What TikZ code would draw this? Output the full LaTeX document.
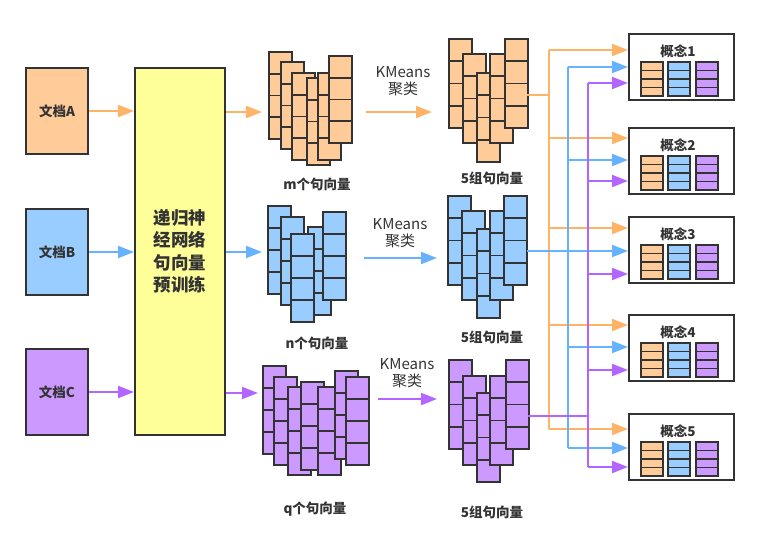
\documentclass[tikz,border=0pt]{standalone}
\usepackage{fontspec}
\setmainfont{Noto Sans CJK SC}
\usetikzlibrary{arrows.meta}
\definecolor{oF}{HTML}{FFCC99}
\definecolor{oL}{HTML}{FFB366}
\definecolor{bF}{HTML}{99CCFF}
\definecolor{bL}{HTML}{66B2FF}
\definecolor{pF}{HTML}{CC99FF}
\definecolor{pL}{HTML}{B266FF}
\definecolor{yF}{HTML}{FFFF99}
\definecolor{edge}{HTML}{333333}
\definecolor{txt}{HTML}{333333}
\newcommand\vstack[5]{%
  \draw[stk,fill=#5] (#1,#2) rectangle ++(#3,#4);
  \foreach \k in {1,2,3}{\draw[stk] (#1,#2+\k*#4/4) -- ++(#3,0);}%
}
\tikzset{
  stk/.style={draw=edge, line width=1.9pt},
  box/.style={draw=edge, line width=2pt, inner sep=0pt},
  arr/.style={line width=2pt, -{Triangle[length=16pt,width=12pt]}},
  ln/.style={line width=2pt},
  doc/.style={box, minimum width=62pt, minimum height=86pt, text=txt, font=\bfseries\fontsize{13.5}{14}\selectfont},
  concept/.style={box, fill=white, minimum width=105pt, minimum height=66pt},
  lab/.style={text=txt, font=\bfseries\fontsize{13.5}{14}\selectfont},
  km/.style={text=txt, align=center, font=\fontsize{15}{17}\selectfont},
}
\begin{document}
\begin{tikzpicture}[x=1pt,y=-1pt]
\useasboundingbox (0,0) rectangle (780,547);

% documents
\node[doc, fill=oF] (A) at (57,111) {文档A};
\node[doc, fill=bF] (B) at (57,252) {文档B};
\node[doc, fill=pF] (C) at (57,392) {文档C};

% RNN box
\node[box, fill=yF, minimum width=90pt, minimum height=367pt, align=center, text=txt,
      font=\bfseries\fontsize{17.5}{22.5}\selectfont] (Y) at (180,251.5) {递归神\\经网络\\句向量\\预训练};

\draw[arr,oL] (A) -- (A -| Y.west);
\draw[arr,bL] (B) -- (B -| Y.west);
\draw[arr,pL] (C) -- (C -| Y.west);

% sentence vector stacks
\coordinate (mIn) at (262,112);
\coordinate (nIn) at (262,252);
\coordinate (qIn) at (258,393);
\draw[arr,oL] (Y.east |- mIn) -- (mIn);
\draw[arr,bL] (Y.east |- nIn) -- (nIn);
\draw[arr,pL] (Y.east |- qIn) -- (qIn);

\foreach \x/\y in {269/52,281/62,292/73,307/78,318/73,329/56} {\vstack{\x}{\y}{23}{87}{oF}}
\foreach \x/\y in {268/206,281/217,308/227,291/234,323/212} {\vstack{\x}{\y}{23}{88}{bF}}
\foreach \x/\y in {263/366,274/377,288/387,301/382,318/387,335/371,346/377} {\vstack{\x}{\y}{23}{88}{pF}}

\node[lab] (mL) at (317,184) {m个句向量};
\node[lab] (nL) at (317,343) {n个句向量};
\node[lab] (qL) at (315,509) {q个句向量};

% KMeans arrows
\coordinate (mOut) at (366,112); \coordinate (gA) at (432,112);
\coordinate (nOut) at (364,258); \coordinate (gB) at (437,258);
\coordinate (qOut) at (378,399); \coordinate (gC) at (437,399);
\draw[arr,oL] (mOut) -- (gA);
\draw[arr,bL] (nOut) -- (gB);
\draw[arr,pL] (qOut) -- (gC);
\node[km] (kA) at (403,81.5) {KMeans\\聚类};
\node[km] (kB) at (400,233.5) {KMeans\\聚类};
\node[km] (kC) at (407,373.5) {KMeans\\聚类};

% 5 groups
\foreach \x/\y in {449/39,463/54,477/73,490/54,505/39} {\vstack{\x}{\y}{23}{89}{oF}}
\foreach \x/\y in {448/196,462/211,477/229,490/211,504/196} {\vstack{\x}{\y}{23}{89}{bF}}
\foreach \x/\y in {449/360,463/376,477/393,490/376,506/360} {\vstack{\x}{\y}{23}{89}{pF}}
\node[lab] (gAL) at (492,178) {5组句向量};
\node[lab] (gBL) at (492,337) {5组句向量};
\node[lab] (gCL) at (492,512) {5组句向量};

% concept boxes
\foreach \k/\t in {1/34,2/128,3/217,4/315,5/414} {
  \node[concept] (K\k) at (681,\t+33) {};
  \node[lab] (K\k t) at (678,\t+17) {概念\k};
  \vstack{641}{\t+28}{22}{34}{oF}
  \vstack{668}{\t+28}{22}{34}{bF}
  \vstack{696}{\t+28}{22}{34}{pF}
}

% buses
\coordinate (oOut) at (527,95);
\coordinate (bOut) at (527,251);
\coordinate (pOut) at (528,416);
\coordinate (oBus) at (549,0);
\coordinate (bBus) at (568,0);
\coordinate (pBus) at (588,0);
\foreach \k/\yo/\yb/\yp in {1/50/67/83, 2/138/160/181, 3/228/251/274, 4/325/347/370, 5/429/448/467} {
  \coordinate (K\k o) at (628,\yo);
  \coordinate (K\k b) at (628,\yb);
  \coordinate (K\k p) at (628,\yp);
}
\draw[ln,oL] (oOut) -- (oOut -| oBus);
\draw[ln,oL] (oBus |- K1o) -- (oBus |- K5o);
\foreach \k in {1,...,5} {\draw[arr,oL] (oBus |- K\k o) -- (K\k o);}
\draw[ln,bL] (bOut) -- (bOut -| bBus);
\draw[ln,bL] (bBus |- K1b) -- (bBus |- K5b);
\foreach \k in {1,...,5} {\draw[arr,bL] (bBus |- K\k b) -- (K\k b);}
\draw[ln,pL] (pOut) -- (pOut -| pBus);
\draw[ln,pL] (pBus |- K1p) -- (pBus |- K5p);
\foreach \k in {1,...,5} {\draw[arr,pL] (pBus |- K\k p) -- (K\k p);}
\end{tikzpicture}
\end{document}
